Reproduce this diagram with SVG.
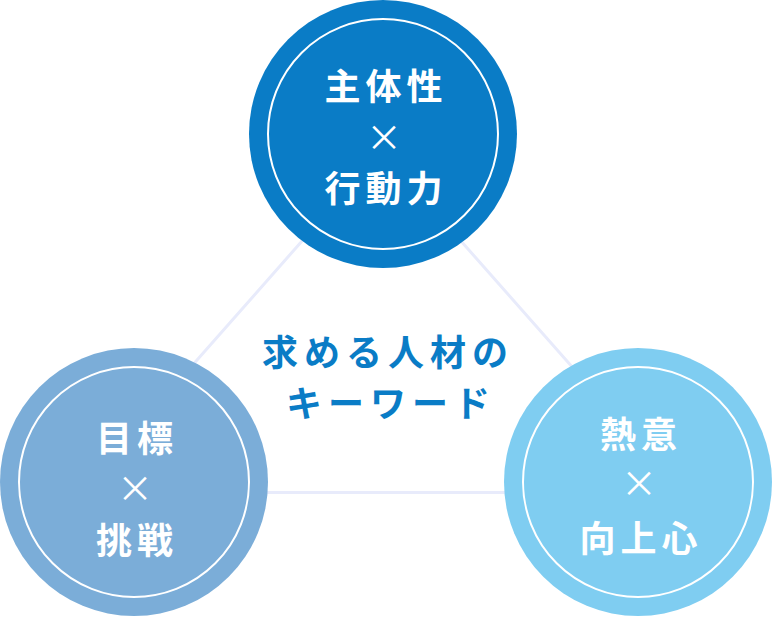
<svg xmlns="http://www.w3.org/2000/svg" width="773" height="617" viewBox="0 0 773 617">
<style>
.ring{fill:none;stroke:#ffffff;stroke-width:2}
.t{font-family:"Noto Sans CJK JP","Noto Sans",sans-serif;font-weight:700;font-size:36px;fill:#ffffff;text-anchor:middle;dominant-baseline:central;letter-spacing:5px}
.x{font-family:"Noto Sans CJK JP","Noto Sans",sans-serif;font-weight:400;font-size:36px;fill:#ffffff;text-anchor:middle;dominant-baseline:central}
.c{font-family:"Noto Sans CJK JP","Noto Sans",sans-serif;font-weight:700;font-size:36px;fill:#0a7cc6;text-anchor:middle;dominant-baseline:central;letter-spacing:6px}
</style>
<rect width="773" height="617" fill="#ffffff"/>
<g id="connectors">
<polygon points="80,492.5 381.5,151 683,492.5" fill="none" stroke="#e8ebfb" stroke-width="3"/>
</g>
<g id="center-label">
<text class="c" x="388" y="350">求める人材の</text>
<text class="c" x="391" y="401">キーワード</text>
</g>
<g id="node-top">
<circle cx="383" cy="134" r="134" fill="#0a7cc6"/>
<circle class="ring" cx="383" cy="134" r="115"/>
<text class="t" x="386" y="84">主体性</text>
<text class="x" x="384" y="135">×</text>
<text class="t" x="386" y="186">行動力</text>
</g>
<g id="node-left">
<circle cx="134" cy="482" r="134" fill="#7badd8"/>
<circle class="ring" cx="134" cy="482" r="115"/>
<text class="t" x="137" y="436">目標</text>
<text class="x" x="135" y="486">×</text>
<text class="t" x="137" y="538">挑戦</text>
</g>
<g id="node-right">
<circle cx="638" cy="482" r="134" fill="#7fcdf1"/>
<circle class="ring" cx="638" cy="482" r="115"/>
<text class="t" x="641" y="432">熱意</text>
<text class="x" x="639" y="481">×</text>
<text class="t" x="641" y="536">向上心</text>
</g>
</svg>
